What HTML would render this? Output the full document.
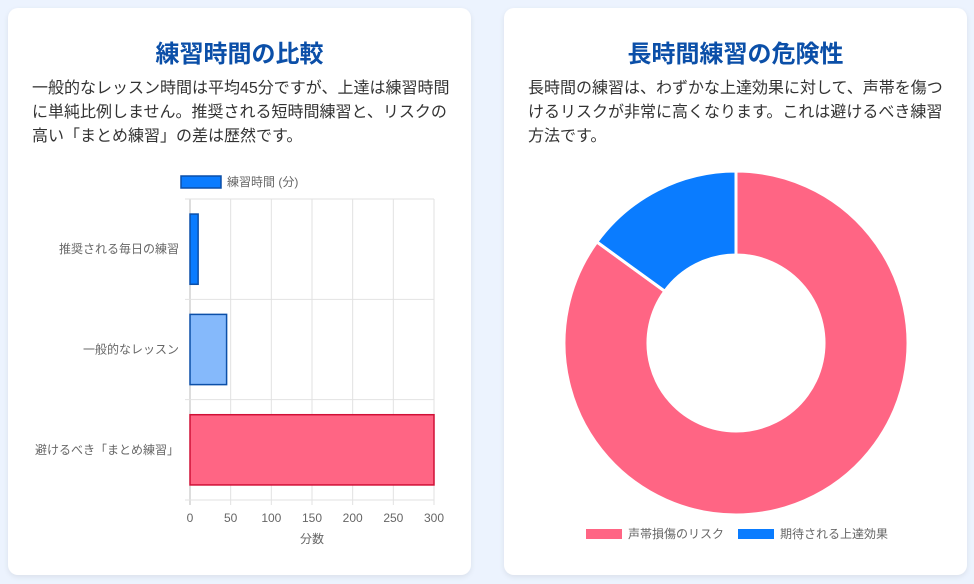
<!DOCTYPE html>
<html><head><meta charset="utf-8">
<style>
body{margin:0;width:974px;height:584px;background:#ecf3fe;font-family:"Liberation Sans","Noto Sans CJK JP",sans-serif;overflow:hidden;position:relative}
.card{position:absolute;top:8px;width:463px;height:567px;background:#fff;border-radius:10px;box-shadow:0 2px 6px rgba(0,0,0,0.08);box-sizing:border-box;padding:0 24px}
h2{margin:0;position:absolute;top:30px;left:0;right:0;text-align:center;font-size:24px;font-weight:bold;color:#0b4fa8;line-height:34px}
p{position:absolute;top:69px;left:24px;right:20px;margin:0;font-size:16px;line-height:24px;color:#333}
svg{position:absolute;left:0;top:0}
</style></head><body>
<div class="card" style="left:8px">
<h2>練習時間の比較</h2>
<p>一般的なレッスン時間は平均45分ですが、上達は練習時間に単純比例しません。推奨される短時間練習と、リスクの高い「まとめ練習」の差は歴然です。</p>
</div>
<div class="card" style="left:504px">
<h2>長時間練習の危険性</h2>
<p>長時間の練習は、わずかな上達効果に対して、声帯を傷つけるリスクが非常に高くなります。これは避けるべき練習方法です。</p>
</div>
<svg id="chart" width="974" height="584"></svg>
<script>
const barCategories=["推奨される毎日の練習","一般的なレッスン","避けるべき「まとめ練習」"];
const barValues=[10,45,300];
const barTicks=[0,50,100,150,200,250,300];
const barFill=["#0a7cff","#85b9fb","#ff6584"];
const barStroke=["#0b4fa8","#0b4fa8","#d01036"];
const donutLabels=["声帯損傷のリスク","期待される上達効果"];
const donutValues=[85,15];
const donutColors=["#ff6584","#0a7cff"];
const NS="http://www.w3.org/2000/svg";
const svg=document.getElementById('chart');
function mk(t,a,txt){const e=document.createElementNS(NS,t);for(const k in a)e.setAttribute(k,a[k]);if(txt!==undefined)e.textContent=txt;svg.appendChild(e);return e;}
// bar chart
const x0=190,x1=434,yTop=199,yBot=500,xMax=300;
const xs=v=>x0+(v/xMax)*(x1-x0);
const band=(yBot-yTop)/barCategories.length;
barTicks.forEach(t=>{
 const g=mk('line',{x1:xs(t),x2:xs(t),y1:yTop,y2:yBot+5,stroke:t===0?'#bbb':'#e2e2e2'});
 
 const l=mk('text',{x:xs(t),y:522,'text-anchor':'middle','font-size':12,fill:'#666'},t);
 
});
for(let i=0;i<=barCategories.length;i++){
 const g=mk('line',{x1:x0-5,x2:x1,y1:yTop+i*band,y2:yTop+i*band,stroke:'#e2e2e2'});
 
}
barCategories.forEach((c,i)=>{
 const yc=yTop+band*(i+0.5),h=band*0.7;
 const r=mk('rect',{x:x0,y:yc-h/2,width:xs(barValues[i])-x0,height:h,fill:barFill[i],stroke:barStroke[i],'stroke-width':1.5});
 
 const l=mk('text',{x:179,y:yc+4,'text-anchor':'end','font-size':12,fill:'#666'},c);
 
});
const xt=mk('text',{x:(x0+x1)/2,y:543,'text-anchor':'middle','font-size':12,fill:'#666'},'分数');

const lb=mk('rect',{x:181,y:176,width:40,height:12,fill:'#0a7cff',stroke:'#0b4fa8','stroke-width':1.5});

const lt=mk('text',{x:227,y:186,'font-size':12,fill:'#666'},'練習時間 (分)');

// donut
const cx=736,cy=343,R=172,r0=88;
const total=donutValues.reduce((a,b)=>a+b,0);
let ang=-Math.PI/2;
donutValues.forEach((v,i)=>{
 const a2=ang+v/total*2*Math.PI,large=(a2-ang)>Math.PI?1:0;
 const p=(rr,a)=>[cx+rr*Math.cos(a),cy+rr*Math.sin(a)];
 const [ax,ay]=p(R,ang),[bx,by]=p(R,a2),[cx2,cy2]=p(r0,a2),[dx,dy]=p(r0,ang);
 const s=mk('path',{d:`M${ax},${ay}A${R},${R} 0 ${large} 1 ${bx},${by}L${cx2},${cy2}A${r0},${r0} 0 ${large} 0 ${dx},${dy}Z`,fill:donutColors[i],stroke:'#fff','stroke-width':3});
 
 ang=a2;
});
const legX=[586,738];
donutLabels.forEach((l,i)=>{
 const sw=mk('rect',{x:legX[i],y:529,width:36,height:10,fill:donutColors[i]});
 
 const t=mk('text',{x:legX[i]+42,y:538,'font-size':12,fill:'#666'},l);
 
});
</script>
</body></html>
